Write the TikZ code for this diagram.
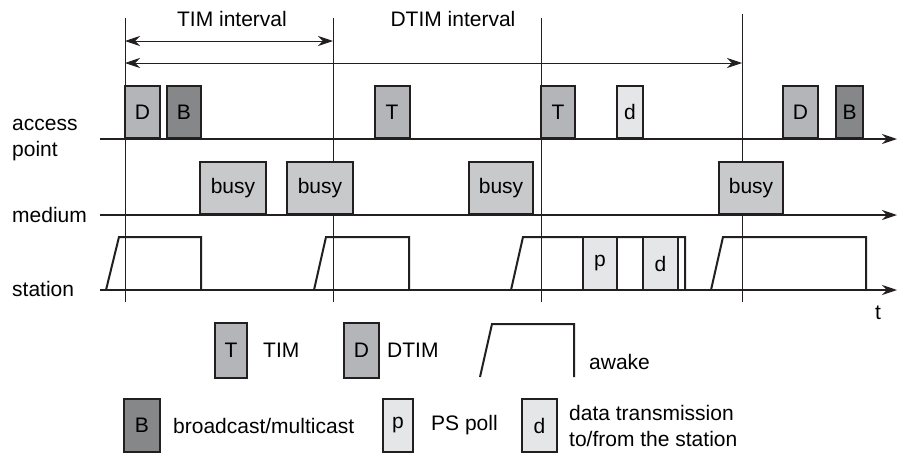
\documentclass[tikz,border=0pt]{standalone}
\usepackage{fontspec}
\setmainfont{Liberation Sans}
\usepackage{tikz}
\usetikzlibrary{arrows.meta,positioning}
\definecolor{timgray}{RGB}{180,181,184}
\definecolor{bcgray}{RGB}{134,135,137}
\definecolor{busygray}{RGB}{200,201,203}
\definecolor{datagray}{RGB}{229,230,231}
\definecolor{ink}{RGB}{35,31,32}

\begin{document}
\begin{tikzpicture}[x=1pt, y=-1pt,
  font=\fontsize{21}{26}\selectfont,
  frame/.style={draw=ink, line width=2pt, inner sep=0pt, minimum height=52pt},
  tbox/.style={frame, fill=timgray},
  bbox/.style={frame, fill=bcgray},
  busybox/.style={frame, fill=busygray},
  dbox/.style={frame, fill=datagray},
  lbl/.style={anchor=west, inner sep=0pt, align=left},
  axis/.style={draw=ink, line width=1.4pt, -{Stealth[length=15pt, width=10pt]}},
  tick/.style={draw=ink, line width=0.8pt},
  dimarr/.style={draw=ink, line width=0.8pt, {Stealth[length=15pt, width=10pt]}-{Stealth[length=15pt, width=10pt]}},
  awake/.style={draw=ink, line width=2pt}
]
\useasboundingbox (0,0) rectangle (898,453);

% beacon marks
\coordinate (v1t) at (125,18);  \coordinate (v1b) at (125,302);
\coordinate (v2t) at (333,18);  \coordinate (v2b) at (333,302);
\coordinate (v3t) at (541,18);  \coordinate (v3b) at (541,302);
\coordinate (v4t) at (742,14);  \coordinate (v4b) at (742,302);
\draw[tick] (v1t) -- (v1b);
\draw[tick] (v2t) -- (v2b);
\draw[tick] (v3t) -- (v3b);
\draw[tick] (v4t) -- (v4b);

% intervals
\node (timlbl) at (232,19) {TIM interval};
\node (dtimlbl) at (453,19) {DTIM interval};
\coordinate (tim1) at (125,41);  \coordinate (tim2) at (333,41);
\coordinate (dtim1) at (125,63); \coordinate (dtim2) at (742,63);
\draw[dimarr] (tim1) -- (tim2);
\draw[dimarr] (dtim1) -- (dtim2);

% time axes
\node[lbl] (aplbl) at (12,140) {access\\point};
\node[lbl] (medlbl) at (12,215) {medium};
\node[lbl] (stalbl) at (12,289) {station};
\coordinate (ap0) at (100,139);  \coordinate (ap1) at (897,139);
\coordinate (med0) at (100,215); \coordinate (med1) at (897,215);
\coordinate (sta0) at (100,290); \coordinate (sta1) at (897,290);
\draw[axis] (ap0) -- (ap1);
\draw[axis] (med0) -- (med1);
\draw[axis] (sta0) -- (sta1);
\node (tlbl) at (878,313) {t};

% access point
\node[tbox, minimum width=35pt] (apD1) at (142.5,112) {D};
\node[bbox, minimum width=34pt] (apB1) at (184,112) {B};
\node[tbox, minimum width=35pt] (apT1) at (392,112) {T};
\node[tbox, minimum width=34pt] (apT2) at (558,112) {T};
\node[dbox, minimum width=26pt] (apd) at (630,112) {d};
\node[tbox, minimum width=35pt] (apD2) at (800.5,112) {D};
\node[bbox, minimum width=27pt] (apB2) at (849.5,112) {B};

% medium
\node[busybox, minimum width=66pt] (busy1) at (233,188) {busy};
\node[busybox, minimum width=66pt] (busy2) at (320,188) {busy};
\node[busybox, minimum width=64pt] (busy3) at (501,188) {busy};
\node[busybox, minimum width=64pt] (busy4) at (751,188) {busy};

% station
\draw[awake] (106,290) -- (119,237) -- (201,237) -- (201,290);
\draw[awake] (314,290) -- (326,237) -- (409,237) -- (409,290);
\draw[awake] (511,290) -- (523,237) -- (685,237) -- (685,290);
\draw[awake] (711,290) -- (723,237) -- (866,237) -- (866,290);
\node[dbox, minimum width=34pt, minimum height=53pt] (stap) at (600,263.5) {p};
\node[dbox, minimum width=35pt, minimum height=53pt] (stad) at (660.5,263.5) {d};

% legend
\node[tbox, minimum width=32pt, minimum height=55pt] (legT) at (231,350.5) {T};
\node[lbl, right=15pt of legT] (legTt) {TIM};
\node[tbox, minimum width=35pt, minimum height=55pt] (legD) at (361.5,350.5) {D};
\node[lbl, right=7pt of legD] (legDt) {DTIM};
\draw[awake] (480,377) -- (492,324) -- (574,324) -- (574,377);
\node[lbl] (legAt) at (589,362) {awake};
\node[bbox, minimum width=36pt, minimum height=53pt] (legB) at (142,425.5) {B};
\node[lbl, right=12pt of legB] (legBt) {broadcast/multicast};
\node[dbox, minimum width=30pt, minimum height=53pt] (legp) at (398,425.5) {p};
\node[lbl, right=17pt of legp] (legpt) {PS poll};
\node[dbox, minimum width=35pt, minimum height=53pt] (legd) at (539.5,425.5) {d};
\node[lbl, right=11pt of legd] (legdt) {data transmission\\to/from the station};
\end{tikzpicture}
\end{document}
